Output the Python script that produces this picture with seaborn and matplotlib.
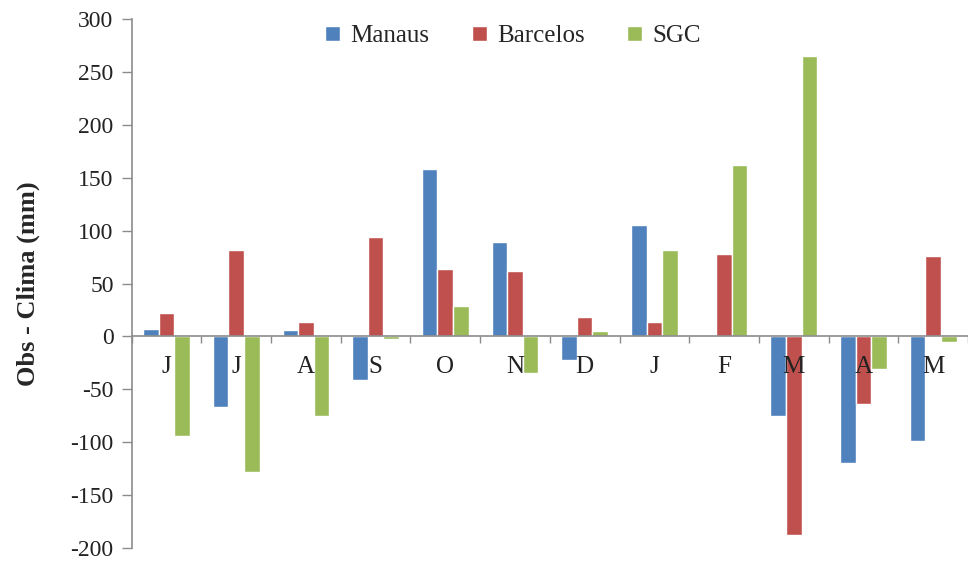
import numpy as np
import pandas as pd
import seaborn as sns
import matplotlib
matplotlib.use("Agg")
import matplotlib.pyplot as plt

# months Jun -> May
months = ["J", "J", "A", "S", "O", "N", "D", "J", "F", "M", "A", "M"]
manaus = [7, -67, 6, -41, 158, 89, -22, 105, 1, -75, -120, -99]
barcelos = [22, 82, 14, 94, 64, 62, 18, 14, 78, -188, -64, 76]
sgc = [-94, -128, -75, -2, 29, -35, 5, 82, 162, 265, -31, -5]

series_names = ["Manaus", "Barcelos", "SGC"]
colors = ["#4F81BD", "#C0504D", "#9BBB59"]

# long-form table for seaborn
idx = list(range(len(months)))
df = pd.DataFrame({
    "pos": idx * 3,
    "value": manaus + barcelos + sgc,
    "series": [s for s in series_names for _ in months],
})

sns.set_style("white")
plt.rcParams["font.family"] = "serif"
plt.rcParams["font.serif"] = ["Liberation Serif", "DejaVu Serif"]
plt.rcParams["axes.unicode_minus"] = False

fig = plt.figure(figsize=(9.68, 5.62), dpi=100)
ax = fig.add_axes([0.136, 0.025, 0.864, 0.941])

sns.barplot(data=df, x="pos", y="value", hue="series", hue_order=series_names,
            palette=colors, width=0.67, saturation=1, ax=ax, native_scale=False)

ax.set_ylim(-200, 300)
ax.set_xlim(-0.5, 11.5)
ax.set_yticks(np.arange(-200, 301, 50))
ax.tick_params(axis="y", labelsize=17, length=7, width=1, color="#8c8c8c",
               direction="out", left=True, pad=6, labelcolor="#222222")

# x axis sits on zero line, labels centred in groups, ticks at boundaries
ax.set_axisbelow(False)  # month letters drawn over the bars
ax.spines["bottom"].set_position(("data", 0))
ax.spines["top"].set_visible(False)
ax.spines["right"].set_visible(False)
for s in ["left", "bottom"]:
    ax.spines[s].set_color("#8c8c8c")
    ax.spines[s].set_linewidth(1.2)
ax.set_xticks(idx)
ax.set_xticklabels(months)
ax.set_xticks(np.arange(-0.5, 12, 1), minor=True)
ax.tick_params(axis="x", which="major", length=0, pad=14, labelsize=18,
               labelcolor="#222222")
ax.tick_params(axis="x", which="minor", length=5, width=1, color="#8c8c8c",
               direction="out", bottom=True)

ax.set_xlabel("")
ax.set_ylabel("Obs - Clima (mm)", fontsize=19, fontweight="bold", labelpad=12)
ax.yaxis.set_label_coords(-0.11, 0.5)

ax.legend(loc="upper center", bbox_to_anchor=(0.53, 0.995), ncol=3, frameon=False,
          fontsize=18, handlelength=0.6, handleheight=0.6, handletextpad=0.4,
          columnspacing=1.7, bbox_transform=fig.transFigure)

fig.savefig("out.png", dpi=100)
